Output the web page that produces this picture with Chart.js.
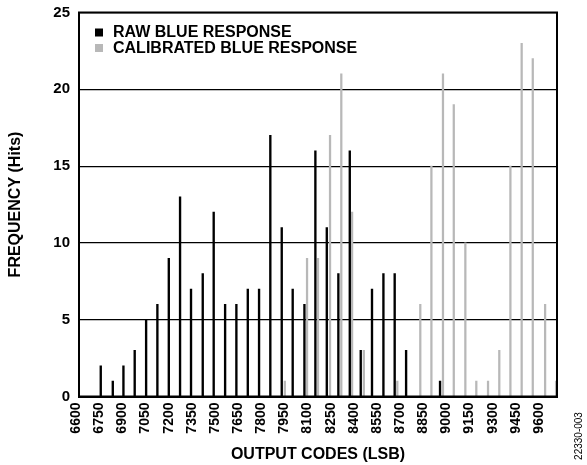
<!DOCTYPE html>
<html>
<head>
<meta charset="utf-8">
<script src="https://cdn.jsdelivr.net/npm/chart.js@4/dist/chart.umd.min.js"></script>
<style>
  html, body { margin: 0; padding: 0; background: #fff; }
</style>
</head>
<body>
<canvas id="histChart" width="587" height="465"></canvas>
<script>
// histogram data (output code, hits)
const rawCodes = [6760, 6838, 6907, 6980, 7054, 7127, 7201, 7274, 7345, 7421, 7492, 7566, 7639, 7713, 7786,
                  7859, 7933, 8004, 8080, 8151, 8225, 8300, 8374, 8445, 8518, 8592, 8665, 8739, 8959];
const rawHits = [2, 1, 2, 3, 5, 6, 9, 13, 7, 8, 12, 6, 6, 7, 7,
                 17, 11, 7, 6, 16, 11, 8, 16, 3, 7, 8, 8, 3, 1];

const calCodes = [7953, 8097, 8168, 8246, 8319, 8389, 8465, 8682, 8831, 8903, 8978, 9048, 9123, 9194,
                  9270, 9343, 9415, 9488, 9560, 9640, 9711];
const calHits = [1, 9, 9, 17, 21, 12, 3, 1, 6, 15, 21, 19, 10, 1,
                 1, 3, 15, 23, 22, 6, 1];

const xTicks = [6600, 6750, 6900, 7050, 7200, 7350, 7500, 7650, 7800, 7950, 8100,
                8250, 8400, 8550, 8700, 8850, 9000, 9150, 9300, 9450, 9600];
const yTicks = [0, 5, 10, 15, 20, 25];

const seriesNames = ['RAW BLUE RESPONSE', 'CALIBRATED BLUE RESPONSE'];
const seriesColors = ['#000000', '#b8b8b8'];

const FONT = "'Liberation Sans', Arial, Helvetica, sans-serif";

function toPoints(codes, hits) {
    return codes.map((c, i) => ({ x: c, y: hits[i] }));
}

// frame around plot, legend inside plot, figure number on the right
const decorations = {
    id: 'decorations',
    afterDraw(chart) {
        const ctx = chart.ctx;
        const a = chart.chartArea;
        ctx.save();
        ctx.strokeStyle = '#000';
        ctx.lineWidth = 2;
        ctx.strokeRect(a.left, a.top, a.right - a.left, a.bottom - a.top);

        ctx.font = 'bold 16px ' + FONT;
        ctx.textBaseline = 'middle';
        ctx.textAlign = 'left';
        chart.data.datasets.forEach((ds, i) => {
            const y = a.top + 20 + i * 15.5;
            ctx.fillStyle = ds.backgroundColor;
            ctx.fillRect(a.left + 16, y - 4, 8, 8);
            ctx.fillStyle = '#000';
            ctx.fillText(ds.label, a.left + 34, y + 0.5);
        });

        ctx.translate(579, 436);
        ctx.rotate(-Math.PI / 2);
        ctx.font = '10px ' + FONT;
        ctx.textAlign = 'center';
        ctx.fillStyle = '#000';
        ctx.fillText('22330-003', 0, 0);
        ctx.restore();
    }
};

const chart = new Chart(document.getElementById('histChart'), {
    type: 'bar',
    data: {
        datasets: [
            {
                label: seriesNames[0],
                data: toPoints(rawCodes, rawHits),
                backgroundColor: seriesColors[0],
                barThickness: 1.7,
                grouped: false,
                borderWidth: 0
            },
            {
                label: seriesNames[1],
                data: toPoints(calCodes, calHits),
                backgroundColor: seriesColors[1],
                barThickness: 1.6,
                grouped: false,
                borderWidth: 0
            }
        ]
    },
    options: {
        responsive: false,
        animation: false,
        devicePixelRatio: 1,
        layout: { padding: { left: 0, right: 30, top: 12.5, bottom: 0 } },
        plugins: {
            legend: { display: false },
            tooltip: { enabled: false }
        },
        scales: {
            x: {
                type: 'linear',
                min: 6619,
                max: 9717,
                offset: false,
                afterBuildTicks: (scale) => { scale.ticks = xTicks.map(v => ({ value: v })); },
                afterFit: (scale) => { scale.height = 68.5; },
                grid: { display: false, drawTicks: false },
                border: { display: true, color: '#000', width: 2 },
                ticks: {
                    autoSkip: false,
                    minRotation: 90,
                    maxRotation: 90,
                    padding: 6,
                    color: '#000',
                    font: { family: FONT, size: 14, weight: 'bold' },
                    callback: (v) => String(v)
                },
                title: {
                    display: true,
                    text: 'OUTPUT CODES (LSB)',
                    color: '#000',
                    font: { family: FONT, size: 16, weight: 'bold' },
                    padding: { top: 0, bottom: 0.5 }
                }
            },
            y: {
                min: 0,
                max: 25,
                afterBuildTicks: (scale) => { scale.ticks = yTicks.map(v => ({ value: v })); },
                afterFit: (scale) => {
                    scale.width = 79;
                    scale.paddingTop = 0;
                    scale.paddingBottom = 0;
                },
                grid: { color: '#000', lineWidth: 1.2, drawTicks: false },
                border: { display: true, color: '#000', width: 2 },
                ticks: {
                    padding: 9,
                    color: '#000',
                    font: { family: FONT, size: 15, weight: 'bold' }
                },
                title: {
                    display: true,
                    text: 'FREQUENCY (Hits)',
                    color: '#000',
                    font: { family: FONT, size: 16, weight: 'bold' },
                    padding: { top: 6, bottom: 0 }
                }
            }
        }
    },
    plugins: [decorations]
});
</script>
</body>
</html>
